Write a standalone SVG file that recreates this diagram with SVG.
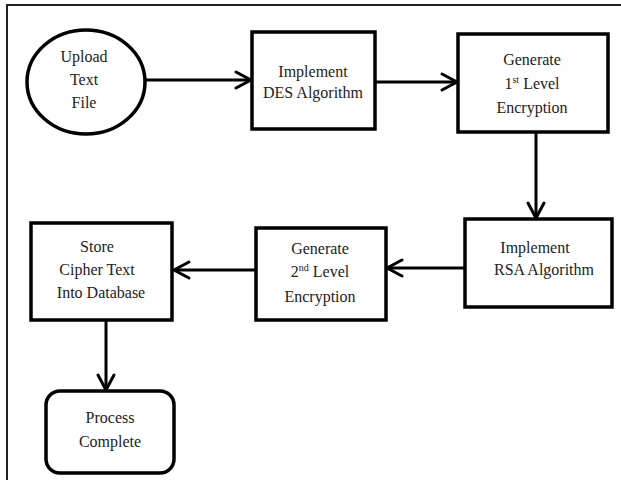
<svg xmlns="http://www.w3.org/2000/svg" width="621" height="480" viewBox="0 0 621 480">
<defs>
<style>
.n{fill:#fff;stroke:#000;stroke-width:3.5}
text{font-family:'Liberation Serif','Times New Roman','DejaVu Serif',serif;font-size:16px;fill:#222;text-anchor:middle}
.c{stroke:#000;stroke-width:3;fill:none}
.h{stroke:#000;stroke-width:3;fill:none;stroke-linecap:round}
</style>
</defs>
<rect width="621" height="480" fill="#fff"/>
<path d="M7 480 V5 H621" fill="none" stroke="#222" stroke-width="2"/>
<g id="connectors">
<line class="c" x1="145" y1="80" x2="250" y2="80"/>
<path class="h" d="M236 72 L251 80 L236 88"/>
<line class="c" x1="375" y1="82" x2="456" y2="82"/>
<path class="h" d="M442 74 L457 82 L442 90"/>
<line class="c" x1="536" y1="132" x2="536" y2="217"/>
<path class="h" d="M528 203 L536 218 L544 203"/>
<line class="c" x1="465" y1="268" x2="388" y2="268"/>
<path class="h" d="M402 260 L387 268 L402 276"/>
<line class="c" x1="256" y1="270" x2="175" y2="270"/>
<path class="h" d="M189 262 L174 270 L189 278"/>
<line class="c" x1="106" y1="320" x2="106" y2="389"/>
<path class="h" d="M98 375 L106 390 L114 375"/>
</g>
<g id="upload" font-family="Liberation Serif, serif">
<ellipse class="n" cx="86" cy="82" rx="59" ry="52"/>
<text x="84" y="62">Upload</text>
<text x="84" y="85">Text</text>
<text x="84" y="108">File</text>
</g>
<g id="des">
<rect class="n" x="252" y="32" width="123" height="97"/>
<text x="313" y="77">Implement</text>
<text x="313" y="98">DES Algorithm</text>
</g>
<g id="gen1">
<rect class="n" x="458" y="34" width="150" height="98"/>
<text x="532" y="65">Generate</text>
<text x="532" y="89">1<tspan font-size="10" dy="-6">st</tspan><tspan dy="6"> Level</tspan></text>
<text x="532" y="113">Encryption</text>
</g>
<g id="rsa">
<rect class="n" x="465" y="219" width="147" height="88"/>
<text x="535" y="253">Implement</text>
<text x="544" y="275">RSA Algorithm</text>
</g>
<g id="gen2">
<rect class="n" x="256" y="228" width="130" height="92"/>
<text x="320" y="254">Generate</text>
<text x="320" y="277">2<tspan font-size="10" dy="-6">nd</tspan><tspan dy="6"> Level</tspan></text>
<text x="320" y="302">Encryption</text>
</g>
<g id="store">
<rect class="n" x="31" y="223" width="141" height="97"/>
<text x="97" y="252">Store</text>
<text x="97" y="275">Cipher Text</text>
<text x="101" y="298">Into Database</text>
</g>
<g id="complete">
<rect class="n" x="46" y="391" width="128" height="82" rx="14"/>
<text x="110" y="423">Process</text>
<text x="110" y="447">Complete</text>
</g>
</svg>
